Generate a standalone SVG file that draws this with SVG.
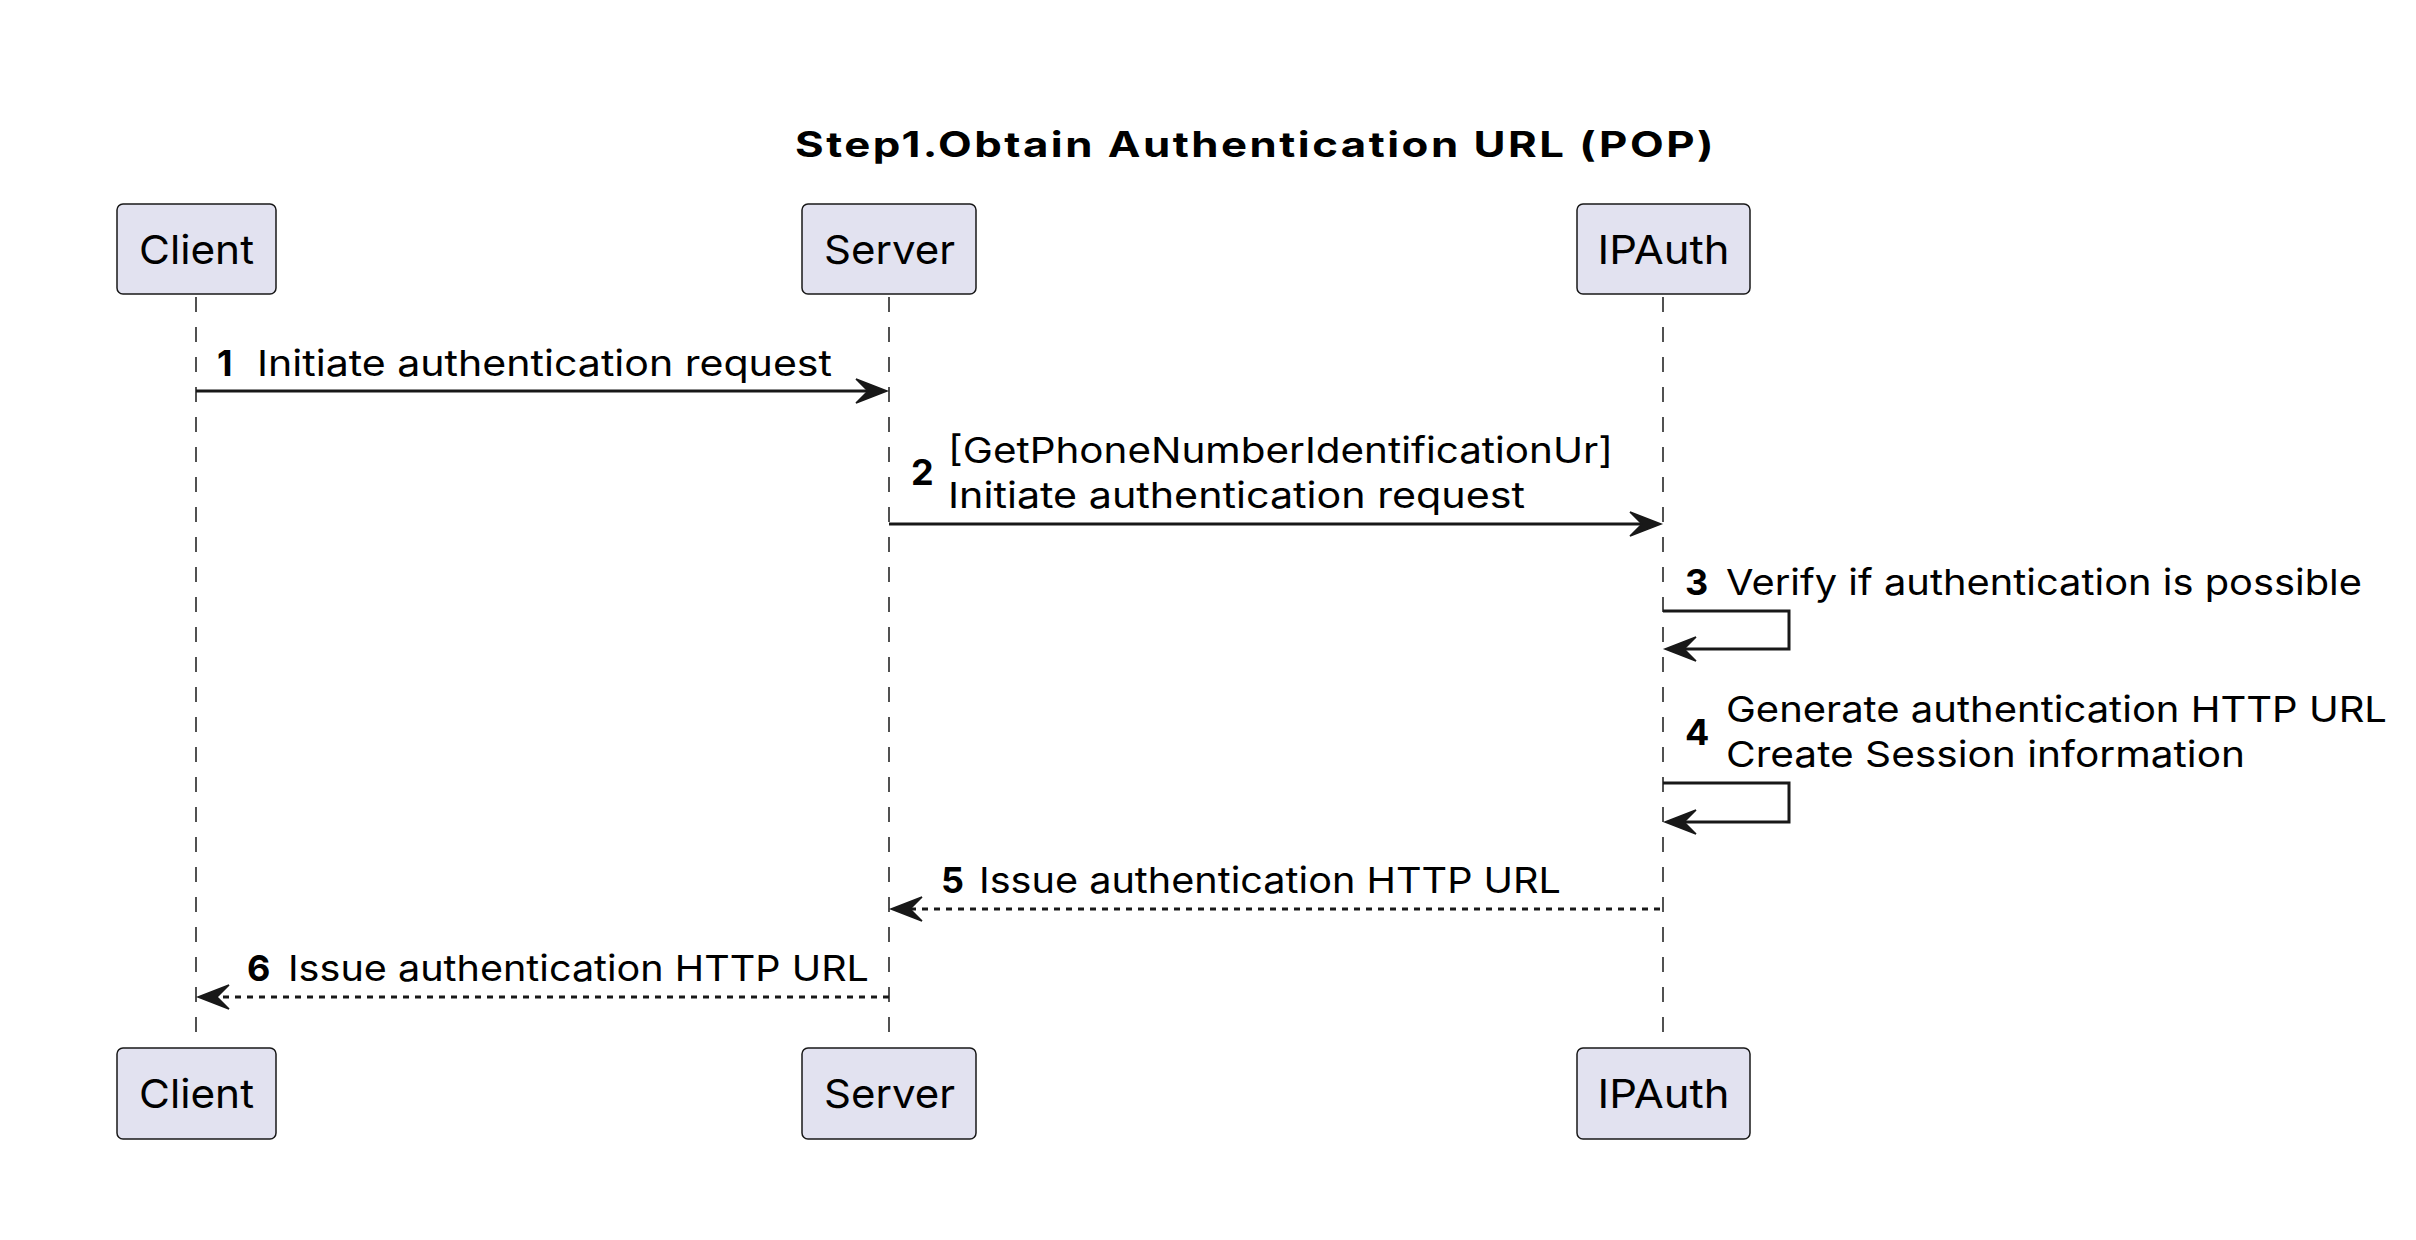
<svg xmlns="http://www.w3.org/2000/svg" width="2416" height="1240" viewBox="0 0 2416 1240">
<defs>
<style>
.box{fill:#E2E2F0;stroke:#181818;stroke-width:1.5}
.pname{font-family:Inter,"Liberation Sans",sans-serif;font-size:40px;fill:#000;text-anchor:middle}
.life{stroke:#181818;stroke-width:1.5;stroke-dasharray:15,15;fill:none}
.msg{stroke:#181818;stroke-width:3;fill:none}
.ret{stroke:#181818;stroke-width:3;fill:none;stroke-dasharray:6,6}
.head{fill:#181818;stroke:#181818;stroke-width:1.5}
.t{font-family:Inter,"Liberation Sans",sans-serif;font-size:36px;fill:#000}
.n{font-family:Inter,"Liberation Sans",sans-serif;font-size:36px;font-weight:bold;fill:#000}
.title{font-family:Inter,"Liberation Sans",sans-serif;font-size:35px;font-weight:bold;letter-spacing:2px;fill:#000}
</style>
</defs>
<rect width="2416" height="1240" fill="#FFFFFF"/>
<text class="title" x="795" y="157" textLength="921" lengthAdjust="spacingAndGlyphs">Step1.Obtain Authentication URL (POP)</text>

<g id="lifelines">
<line class="life" x1="196" y1="297" x2="196" y2="1047"/>
<line class="life" x1="889" y1="297" x2="889" y2="1047"/>
<line class="life" x1="1663" y1="297" x2="1663" y2="1047"/>
</g>

<g id="Client">
<rect class="box" x="117" y="204" width="159" height="90" rx="6"/>
<text class="pname" x="196.5" y="264" textLength="115" lengthAdjust="spacingAndGlyphs">Client</text>
<rect class="box" x="117" y="1048" width="159" height="91" rx="6"/>
<text class="pname" x="196.5" y="1108" textLength="115" lengthAdjust="spacingAndGlyphs">Client</text>
</g>
<g id="Server">
<rect class="box" x="802" y="204" width="174" height="90" rx="6"/>
<text class="pname" x="889.5" y="264" textLength="131" lengthAdjust="spacingAndGlyphs">Server</text>
<rect class="box" x="802" y="1048" width="174" height="91" rx="6"/>
<text class="pname" x="889.5" y="1108" textLength="131" lengthAdjust="spacingAndGlyphs">Server</text>
</g>
<g id="IPAuth">
<rect class="box" x="1577" y="204" width="173" height="90" rx="6"/>
<text class="pname" x="1663.5" y="264" textLength="132" lengthAdjust="spacingAndGlyphs">IPAuth</text>
<rect class="box" x="1577" y="1048" width="173" height="91" rx="6"/>
<text class="pname" x="1663.5" y="1108" textLength="132" lengthAdjust="spacingAndGlyphs">IPAuth</text>
</g>

<g id="connectors">
<!-- 1 -->
<line class="msg" x1="196" y1="391" x2="884" y2="391"/>
<polygon class="head" points="856,379 887,391 856,403 868,391"/>
<!-- 2 -->
<line class="msg" x1="889" y1="524" x2="1658" y2="524"/>
<polygon class="head" points="1630,512 1661,524 1630,536 1642,524"/>
<!-- 3 -->
<polyline class="msg" points="1663,611 1789,611 1789,649 1668,649"/>
<polygon class="head" points="1696,637 1665,649 1696,661 1684,649"/>
<!-- 4 -->
<polyline class="msg" points="1663,783 1789,783 1789,822 1668,822"/>
<polygon class="head" points="1696,810 1665,822 1696,834 1684,822"/>
<!-- 5 -->
<line class="ret" x1="1660" y1="909" x2="894" y2="909"/>
<polygon class="head" points="922,897 891,909 922,921 910,909"/>
<!-- 6 -->
<line class="ret" x1="889" y1="997" x2="201" y2="997"/>
<polygon class="head" points="229,985 198,997 229,1009 217,997"/>
</g>

<g id="labels">
<text class="n" x="217" y="376">1</text>
<text class="t" x="257" y="376" textLength="575" lengthAdjust="spacingAndGlyphs">Initiate authentication request</text>
<text class="n" x="911" y="485">2</text>
<text class="t" x="948" y="463" textLength="665" lengthAdjust="spacingAndGlyphs">[GetPhoneNumberIdentificationUr]</text>
<text class="t" x="948" y="508" textLength="577" lengthAdjust="spacingAndGlyphs">Initiate authentication request</text>
<text class="n" x="1685" y="595">3</text>
<text class="t" x="1726" y="595" textLength="636" lengthAdjust="spacingAndGlyphs">Verify if authentication is possible</text>
<text class="n" x="1685" y="745">4</text>
<text class="t" x="1726" y="722" textLength="661" lengthAdjust="spacingAndGlyphs">Generate authentication HTTP URL</text>
<text class="t" x="1726" y="767" textLength="519" lengthAdjust="spacingAndGlyphs">Create Session information</text>
<text class="n" x="941" y="893">5</text>
<text class="t" x="979" y="893" textLength="582" lengthAdjust="spacingAndGlyphs">Issue authentication HTTP URL</text>
<text class="n" x="247" y="981">6</text>
<text class="t" x="288" y="981" textLength="581" lengthAdjust="spacingAndGlyphs">Issue authentication HTTP URL</text>
</g>
</svg>
